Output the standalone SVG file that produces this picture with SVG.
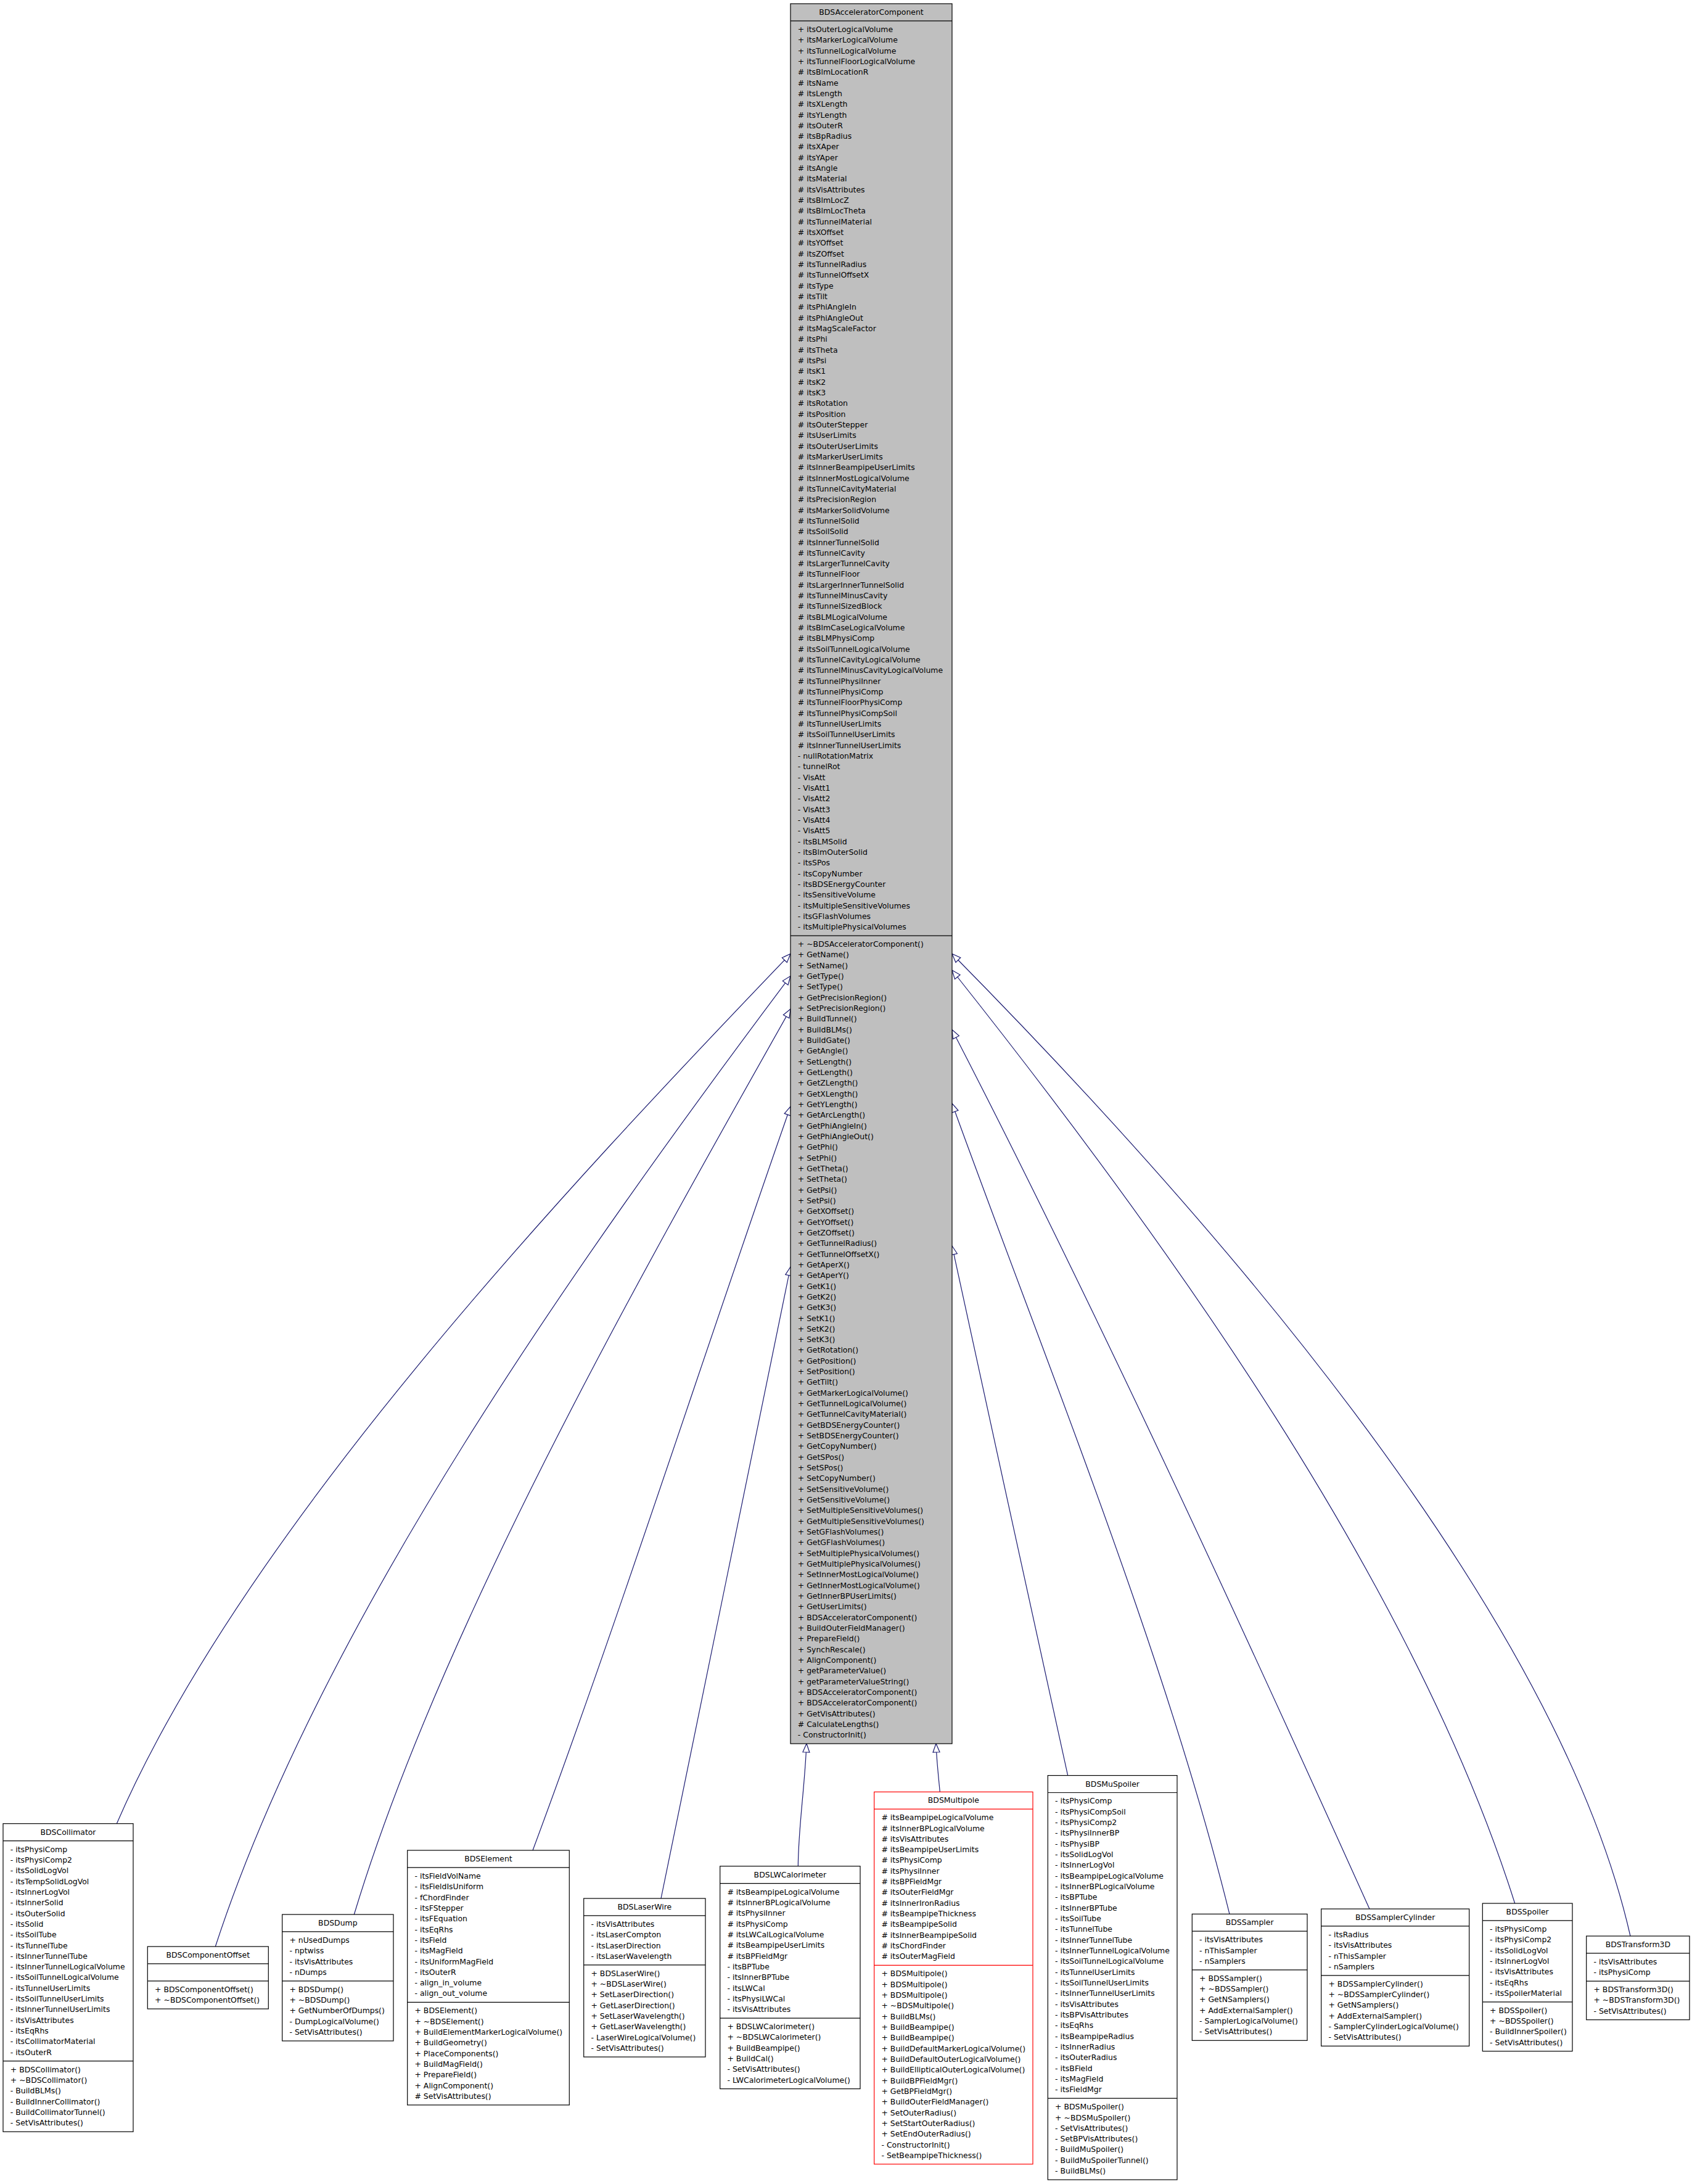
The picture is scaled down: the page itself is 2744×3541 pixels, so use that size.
<svg xmlns="http://www.w3.org/2000/svg" width="2744" height="3541" viewBox="0 0 2744 3541">
<style>
text{font-family:"DejaVu Sans","Liberation Sans",sans-serif;font-size:12.45px;fill:#000}
.c{text-anchor:middle}
.n rect{fill:#fff;stroke:#000;stroke-width:1.2}
.n line{stroke:#000;stroke-width:1.2}
.root rect{fill:#bfbfbf}
.red rect,.red line{stroke:#ff0000}
.e path{fill:none;stroke:#191970;stroke-width:1.2}
</style>
<defs>
<marker id="tri" markerUnits="userSpaceOnUse" markerWidth="16" markerHeight="14" refX="14" refY="6.5" orient="auto-start-reverse" overflow="visible">
<path d="M0,1 L14,6.5 L0,12 Z" fill="#fff" stroke="#191970" stroke-width="1.2"/>
</marker>
</defs>
<rect width="2744" height="3541" fill="#fff"/>
<g class="e" id="connectors">
<path marker-start="url(#tri)" d="M1282,1546.5 C923,1921 397,2478 189.3,2956.7"/>
<path marker-start="url(#tri)" d="M1282,1582.5 C946,2030.5 523,2624 349.3,3156"/>
<path marker-start="url(#tri)" d="M1282,1636 C1027,2088 713.5,2643 574.3,3104"/>
<path marker-start="url(#tri)" d="M1282,1794 C1150,2170 1004,2624 864,3000"/>
<path marker-start="url(#tri)" d="M1282,2054 C1212,2395 1142,2737 1072,3078"/>
<path marker-start="url(#tri)" d="M1308,2827 C1305,2900 1295,2960 1294.3,3025.7"/>
<path marker-start="url(#tri)" d="M1518,2827 C1519,2855 1522,2880 1524.3,2905.3"/>
<path marker-start="url(#tri)" d="M1544,2020 C1606,2306 1669,2593 1731.7,2878.6"/>
<path marker-start="url(#tri)" d="M1544,1789 C1693.6,2202.6 1888.4,2676.5 1994,3103.3"/>
<path marker-start="url(#tri)" d="M1544,1669.5 C1774,2114.5 2016,2640 2221,3095"/>
<path marker-start="url(#tri)" d="M1544,1573 C1885,2002 2291.7,2563.5 2456.7,3086"/>
<path marker-start="url(#tri)" d="M1544,1546.5 C1936,1944 2520.8,2595.8 2644,3139"/>
</g>
<g class="n root" id="BDSAcceleratorComponent" transform="translate(1282,6)">
<rect width="262" height="2821.1"/>
<line x1="0" y1="27.9" x2="262" y2="27.9"/>
<line x1="0" y1="1511.125" x2="262" y2="1511.125"/>
<text class="c" x="131" y="18">BDSAcceleratorComponent</text>
<text x="11.8" y="45.9"><tspan x="11.8">+ itsOuterLogicalVolume</tspan><tspan x="11.8" dy="17.325">+ itsMarkerLogicalVolume</tspan><tspan x="11.8" dy="17.325">+ itsTunnelLogicalVolume</tspan><tspan x="11.8" dy="17.325">+ itsTunnelFloorLogicalVolume</tspan><tspan x="11.8" dy="17.325"># itsBlmLocationR</tspan><tspan x="11.8" dy="17.325"># itsName</tspan><tspan x="11.8" dy="17.325"># itsLength</tspan><tspan x="11.8" dy="17.325"># itsXLength</tspan><tspan x="11.8" dy="17.325"># itsYLength</tspan><tspan x="11.8" dy="17.325"># itsOuterR</tspan><tspan x="11.8" dy="17.325"># itsBpRadius</tspan><tspan x="11.8" dy="17.325"># itsXAper</tspan><tspan x="11.8" dy="17.325"># itsYAper</tspan><tspan x="11.8" dy="17.325"># itsAngle</tspan><tspan x="11.8" dy="17.325"># itsMaterial</tspan><tspan x="11.8" dy="17.325"># itsVisAttributes</tspan><tspan x="11.8" dy="17.325"># itsBlmLocZ</tspan><tspan x="11.8" dy="17.325"># itsBlmLocTheta</tspan><tspan x="11.8" dy="17.325"># itsTunnelMaterial</tspan><tspan x="11.8" dy="17.325"># itsXOffset</tspan><tspan x="11.8" dy="17.325"># itsYOffset</tspan><tspan x="11.8" dy="17.325"># itsZOffset</tspan><tspan x="11.8" dy="17.325"># itsTunnelRadius</tspan><tspan x="11.8" dy="17.325"># itsTunnelOffsetX</tspan><tspan x="11.8" dy="17.325"># itsType</tspan><tspan x="11.8" dy="17.325"># itsTilt</tspan><tspan x="11.8" dy="17.325"># itsPhiAngleIn</tspan><tspan x="11.8" dy="17.325"># itsPhiAngleOut</tspan><tspan x="11.8" dy="17.325"># itsMagScaleFactor</tspan><tspan x="11.8" dy="17.325"># itsPhi</tspan><tspan x="11.8" dy="17.325"># itsTheta</tspan><tspan x="11.8" dy="17.325"># itsPsi</tspan><tspan x="11.8" dy="17.325"># itsK1</tspan><tspan x="11.8" dy="17.325"># itsK2</tspan><tspan x="11.8" dy="17.325"># itsK3</tspan><tspan x="11.8" dy="17.325"># itsRotation</tspan><tspan x="11.8" dy="17.325"># itsPosition</tspan><tspan x="11.8" dy="17.325"># itsOuterStepper</tspan><tspan x="11.8" dy="17.325"># itsUserLimits</tspan><tspan x="11.8" dy="17.325"># itsOuterUserLimits</tspan><tspan x="11.8" dy="17.325"># itsMarkerUserLimits</tspan><tspan x="11.8" dy="17.325"># itsInnerBeampipeUserLimits</tspan><tspan x="11.8" dy="17.325"># itsInnerMostLogicalVolume</tspan><tspan x="11.8" dy="17.325"># itsTunnelCavityMaterial</tspan><tspan x="11.8" dy="17.325"># itsPrecisionRegion</tspan><tspan x="11.8" dy="17.325"># itsMarkerSolidVolume</tspan><tspan x="11.8" dy="17.325"># itsTunnelSolid</tspan><tspan x="11.8" dy="17.325"># itsSoilSolid</tspan><tspan x="11.8" dy="17.325"># itsInnerTunnelSolid</tspan><tspan x="11.8" dy="17.325"># itsTunnelCavity</tspan><tspan x="11.8" dy="17.325"># itsLargerTunnelCavity</tspan><tspan x="11.8" dy="17.325"># itsTunnelFloor</tspan><tspan x="11.8" dy="17.325"># itsLargerInnerTunnelSolid</tspan><tspan x="11.8" dy="17.325"># itsTunnelMinusCavity</tspan><tspan x="11.8" dy="17.325"># itsTunnelSizedBlock</tspan><tspan x="11.8" dy="17.325"># itsBLMLogicalVolume</tspan><tspan x="11.8" dy="17.325"># itsBlmCaseLogicalVolume</tspan><tspan x="11.8" dy="17.325"># itsBLMPhysiComp</tspan><tspan x="11.8" dy="17.325"># itsSoilTunnelLogicalVolume</tspan><tspan x="11.8" dy="17.325"># itsTunnelCavityLogicalVolume</tspan><tspan x="11.8" dy="17.325"># itsTunnelMinusCavityLogicalVolume</tspan><tspan x="11.8" dy="17.325"># itsTunnelPhysiInner</tspan><tspan x="11.8" dy="17.325"># itsTunnelPhysiComp</tspan><tspan x="11.8" dy="17.325"># itsTunnelFloorPhysiComp</tspan><tspan x="11.8" dy="17.325"># itsTunnelPhysiCompSoil</tspan><tspan x="11.8" dy="17.325"># itsTunnelUserLimits</tspan><tspan x="11.8" dy="17.325"># itsSoilTunnelUserLimits</tspan><tspan x="11.8" dy="17.325"># itsInnerTunnelUserLimits</tspan><tspan x="11.8" dy="17.325">- nullRotationMatrix</tspan><tspan x="11.8" dy="17.325">- tunnelRot</tspan><tspan x="11.8" dy="17.325">- VisAtt</tspan><tspan x="11.8" dy="17.325">- VisAtt1</tspan><tspan x="11.8" dy="17.325">- VisAtt2</tspan><tspan x="11.8" dy="17.325">- VisAtt3</tspan><tspan x="11.8" dy="17.325">- VisAtt4</tspan><tspan x="11.8" dy="17.325">- VisAtt5</tspan><tspan x="11.8" dy="17.325">- itsBLMSolid</tspan><tspan x="11.8" dy="17.325">- itsBlmOuterSolid</tspan><tspan x="11.8" dy="17.325">- itsSPos</tspan><tspan x="11.8" dy="17.325">- itsCopyNumber</tspan><tspan x="11.8" dy="17.325">- itsBDSEnergyCounter</tspan><tspan x="11.8" dy="17.325">- itsSensitiveVolume</tspan><tspan x="11.8" dy="17.325">- itsMultipleSensitiveVolumes</tspan><tspan x="11.8" dy="17.325">- itsGFlashVolumes</tspan><tspan x="11.8" dy="17.325">- itsMultiplePhysicalVolumes</tspan></text>
<text x="11.8" y="1529.125"><tspan x="11.8">+ ~BDSAcceleratorComponent()</tspan><tspan x="11.8" dy="17.325">+ GetName()</tspan><tspan x="11.8" dy="17.325">+ SetName()</tspan><tspan x="11.8" dy="17.325">+ GetType()</tspan><tspan x="11.8" dy="17.325">+ SetType()</tspan><tspan x="11.8" dy="17.325">+ GetPrecisionRegion()</tspan><tspan x="11.8" dy="17.325">+ SetPrecisionRegion()</tspan><tspan x="11.8" dy="17.325">+ BuildTunnel()</tspan><tspan x="11.8" dy="17.325">+ BuildBLMs()</tspan><tspan x="11.8" dy="17.325">+ BuildGate()</tspan><tspan x="11.8" dy="17.325">+ GetAngle()</tspan><tspan x="11.8" dy="17.325">+ SetLength()</tspan><tspan x="11.8" dy="17.325">+ GetLength()</tspan><tspan x="11.8" dy="17.325">+ GetZLength()</tspan><tspan x="11.8" dy="17.325">+ GetXLength()</tspan><tspan x="11.8" dy="17.325">+ GetYLength()</tspan><tspan x="11.8" dy="17.325">+ GetArcLength()</tspan><tspan x="11.8" dy="17.325">+ GetPhiAngleIn()</tspan><tspan x="11.8" dy="17.325">+ GetPhiAngleOut()</tspan><tspan x="11.8" dy="17.325">+ GetPhi()</tspan><tspan x="11.8" dy="17.325">+ SetPhi()</tspan><tspan x="11.8" dy="17.325">+ GetTheta()</tspan><tspan x="11.8" dy="17.325">+ SetTheta()</tspan><tspan x="11.8" dy="17.325">+ GetPsi()</tspan><tspan x="11.8" dy="17.325">+ SetPsi()</tspan><tspan x="11.8" dy="17.325">+ GetXOffset()</tspan><tspan x="11.8" dy="17.325">+ GetYOffset()</tspan><tspan x="11.8" dy="17.325">+ GetZOffset()</tspan><tspan x="11.8" dy="17.325">+ GetTunnelRadius()</tspan><tspan x="11.8" dy="17.325">+ GetTunnelOffsetX()</tspan><tspan x="11.8" dy="17.325">+ GetAperX()</tspan><tspan x="11.8" dy="17.325">+ GetAperY()</tspan><tspan x="11.8" dy="17.325">+ GetK1()</tspan><tspan x="11.8" dy="17.325">+ GetK2()</tspan><tspan x="11.8" dy="17.325">+ GetK3()</tspan><tspan x="11.8" dy="17.325">+ SetK1()</tspan><tspan x="11.8" dy="17.325">+ SetK2()</tspan><tspan x="11.8" dy="17.325">+ SetK3()</tspan><tspan x="11.8" dy="17.325">+ GetRotation()</tspan><tspan x="11.8" dy="17.325">+ GetPosition()</tspan><tspan x="11.8" dy="17.325">+ SetPosition()</tspan><tspan x="11.8" dy="17.325">+ GetTilt()</tspan><tspan x="11.8" dy="17.325">+ GetMarkerLogicalVolume()</tspan><tspan x="11.8" dy="17.325">+ GetTunnelLogicalVolume()</tspan><tspan x="11.8" dy="17.325">+ GetTunnelCavityMaterial()</tspan><tspan x="11.8" dy="17.325">+ GetBDSEnergyCounter()</tspan><tspan x="11.8" dy="17.325">+ SetBDSEnergyCounter()</tspan><tspan x="11.8" dy="17.325">+ GetCopyNumber()</tspan><tspan x="11.8" dy="17.325">+ GetSPos()</tspan><tspan x="11.8" dy="17.325">+ SetSPos()</tspan><tspan x="11.8" dy="17.325">+ SetCopyNumber()</tspan><tspan x="11.8" dy="17.325">+ SetSensitiveVolume()</tspan><tspan x="11.8" dy="17.325">+ GetSensitiveVolume()</tspan><tspan x="11.8" dy="17.325">+ SetMultipleSensitiveVolumes()</tspan><tspan x="11.8" dy="17.325">+ GetMultipleSensitiveVolumes()</tspan><tspan x="11.8" dy="17.325">+ SetGFlashVolumes()</tspan><tspan x="11.8" dy="17.325">+ GetGFlashVolumes()</tspan><tspan x="11.8" dy="17.325">+ SetMultiplePhysicalVolumes()</tspan><tspan x="11.8" dy="17.325">+ GetMultiplePhysicalVolumes()</tspan><tspan x="11.8" dy="17.325">+ SetInnerMostLogicalVolume()</tspan><tspan x="11.8" dy="17.325">+ GetInnerMostLogicalVolume()</tspan><tspan x="11.8" dy="17.325">+ GetInnerBPUserLimits()</tspan><tspan x="11.8" dy="17.325">+ GetUserLimits()</tspan><tspan x="11.8" dy="17.325">+ BDSAcceleratorComponent()</tspan><tspan x="11.8" dy="17.325">+ BuildOuterFieldManager()</tspan><tspan x="11.8" dy="17.325">+ PrepareField()</tspan><tspan x="11.8" dy="17.325">+ SynchRescale()</tspan><tspan x="11.8" dy="17.325">+ AlignComponent()</tspan><tspan x="11.8" dy="17.325">+ getParameterValue()</tspan><tspan x="11.8" dy="17.325">+ getParameterValueString()</tspan><tspan x="11.8" dy="17.325">+ BDSAcceleratorComponent()</tspan><tspan x="11.8" dy="17.325">+ BDSAcceleratorComponent()</tspan><tspan x="11.8" dy="17.325">+ GetVisAttributes()</tspan><tspan x="11.8" dy="17.325"># CalculateLengths()</tspan><tspan x="11.8" dy="17.325">- ConstructorInit()</tspan></text>
</g>
<g class="n" id="BDSCollimator" transform="translate(5,2956.7)">
<rect width="211" height="499.55"/>
<line x1="0" y1="27.9" x2="211" y2="27.9"/>
<line x1="0" y1="385" x2="211" y2="385"/>
<text class="c" x="105.5" y="18">BDSCollimator</text>
<text x="11.8" y="45.9"><tspan x="11.8">- itsPhysiComp</tspan><tspan x="11.8" dy="17.325">- itsPhysiComp2</tspan><tspan x="11.8" dy="17.325">- itsSolidLogVol</tspan><tspan x="11.8" dy="17.325">- itsTempSolidLogVol</tspan><tspan x="11.8" dy="17.325">- itsInnerLogVol</tspan><tspan x="11.8" dy="17.325">- itsInnerSolid</tspan><tspan x="11.8" dy="17.325">- itsOuterSolid</tspan><tspan x="11.8" dy="17.325">- itsSolid</tspan><tspan x="11.8" dy="17.325">- itsSoilTube</tspan><tspan x="11.8" dy="17.325">- itsTunnelTube</tspan><tspan x="11.8" dy="17.325">- itsInnerTunnelTube</tspan><tspan x="11.8" dy="17.325">- itsInnerTunnelLogicalVolume</tspan><tspan x="11.8" dy="17.325">- itsSoilTunnelLogicalVolume</tspan><tspan x="11.8" dy="17.325">- itsTunnelUserLimits</tspan><tspan x="11.8" dy="17.325">- itsSoilTunnelUserLimits</tspan><tspan x="11.8" dy="17.325">- itsInnerTunnelUserLimits</tspan><tspan x="11.8" dy="17.325">- itsVisAttributes</tspan><tspan x="11.8" dy="17.325">- itsEqRhs</tspan><tspan x="11.8" dy="17.325">- itsCollimatorMaterial</tspan><tspan x="11.8" dy="17.325">- itsOuterR</tspan></text>
<text x="11.8" y="403"><tspan x="11.8">+ BDSCollimator()</tspan><tspan x="11.8" dy="17.325">+ ~BDSCollimator()</tspan><tspan x="11.8" dy="17.325">- BuildBLMs()</tspan><tspan x="11.8" dy="17.325">- BuildInnerCollimator()</tspan><tspan x="11.8" dy="17.325">- BuildCollimatorTunnel()</tspan><tspan x="11.8" dy="17.325">- SetVisAttributes()</tspan></text>
</g>
<g class="n" id="BDSComponentOffset" transform="translate(239.3,3156)">
<rect width="196" height="101.05"/>
<line x1="0" y1="27.9" x2="196" y2="27.9"/>
<line x1="0" y1="55.8" x2="196" y2="55.8"/>
<text class="c" x="98" y="18">BDSComponentOffset</text>
<text x="11.8" y="73.8"><tspan x="11.8">+ BDSComponentOffset()</tspan><tspan x="11.8" dy="17.325">+ ~BDSComponentOffset()</tspan></text>
</g>
<g class="n" id="BDSDump" transform="translate(457.7,3104)">
<rect width="180.3" height="205"/>
<line x1="0" y1="27.9" x2="180.3" y2="27.9"/>
<line x1="0" y1="107.8" x2="180.3" y2="107.8"/>
<text class="c" x="90.15" y="18">BDSDump</text>
<text x="11.8" y="45.9"><tspan x="11.8">+ nUsedDumps</tspan><tspan x="11.8" dy="17.325">- nptwiss</tspan><tspan x="11.8" dy="17.325">- itsVisAttributes</tspan><tspan x="11.8" dy="17.325">- nDumps</tspan></text>
<text x="11.8" y="125.8"><tspan x="11.8">+ BDSDump()</tspan><tspan x="11.8" dy="17.325">+ ~BDSDump()</tspan><tspan x="11.8" dy="17.325">+ GetNumberOfDumps()</tspan><tspan x="11.8" dy="17.325">- DumpLogicalVolume()</tspan><tspan x="11.8" dy="17.325">- SetVisAttributes()</tspan></text>
</g>
<g class="n" id="BDSElement" transform="translate(660.7,3000)">
<rect width="262.6" height="412.9"/>
<line x1="0" y1="27.9" x2="262.6" y2="27.9"/>
<line x1="0" y1="246.4" x2="262.6" y2="246.4"/>
<text class="c" x="131.3" y="18">BDSElement</text>
<text x="11.8" y="45.9"><tspan x="11.8">- itsFieldVolName</tspan><tspan x="11.8" dy="17.325">- itsFieldIsUniform</tspan><tspan x="11.8" dy="17.325">- fChordFinder</tspan><tspan x="11.8" dy="17.325">- itsFStepper</tspan><tspan x="11.8" dy="17.325">- itsFEquation</tspan><tspan x="11.8" dy="17.325">- itsEqRhs</tspan><tspan x="11.8" dy="17.325">- itsField</tspan><tspan x="11.8" dy="17.325">- itsMagField</tspan><tspan x="11.8" dy="17.325">- itsUniformMagField</tspan><tspan x="11.8" dy="17.325">- itsOuterR</tspan><tspan x="11.8" dy="17.325">- align_in_volume</tspan><tspan x="11.8" dy="17.325">- align_out_volume</tspan></text>
<text x="11.8" y="264.4"><tspan x="11.8">+ BDSElement()</tspan><tspan x="11.8" dy="17.325">+ ~BDSElement()</tspan><tspan x="11.8" dy="17.325">+ BuildElementMarkerLogicalVolume()</tspan><tspan x="11.8" dy="17.325">+ BuildGeometry()</tspan><tspan x="11.8" dy="17.325">+ PlaceComponents()</tspan><tspan x="11.8" dy="17.325">+ BuildMagField()</tspan><tspan x="11.8" dy="17.325">+ PrepareField()</tspan><tspan x="11.8" dy="17.325">+ AlignComponent()</tspan><tspan x="11.8" dy="17.325"># SetVisAttributes()</tspan></text>
</g>
<g class="n" id="BDSLaserWire" transform="translate(946.7,3078)">
<rect width="197.3" height="257"/>
<line x1="0" y1="27.9" x2="197.3" y2="27.9"/>
<line x1="0" y1="107.8" x2="197.3" y2="107.8"/>
<text class="c" x="98.65" y="18">BDSLaserWire</text>
<text x="11.8" y="45.9"><tspan x="11.8">- itsVisAttributes</tspan><tspan x="11.8" dy="17.325">- itsLaserCompton</tspan><tspan x="11.8" dy="17.325">- itsLaserDirection</tspan><tspan x="11.8" dy="17.325">- itsLaserWavelength</tspan></text>
<text x="11.8" y="125.8"><tspan x="11.8">+ BDSLaserWire()</tspan><tspan x="11.8" dy="17.325">+ ~BDSLaserWire()</tspan><tspan x="11.8" dy="17.325">+ SetLaserDirection()</tspan><tspan x="11.8" dy="17.325">+ GetLaserDirection()</tspan><tspan x="11.8" dy="17.325">+ SetLaserWavelength()</tspan><tspan x="11.8" dy="17.325">+ GetLaserWavelength()</tspan><tspan x="11.8" dy="17.325">- LaserWireLogicalVolume()</tspan><tspan x="11.8" dy="17.325">- SetVisAttributes()</tspan></text>
</g>
<g class="n" id="BDSLWCalorimeter" transform="translate(1167.7,3025.7)">
<rect width="227.3" height="360.95"/>
<line x1="0" y1="27.9" x2="227.3" y2="27.9"/>
<line x1="0" y1="246.4" x2="227.3" y2="246.4"/>
<text class="c" x="113.65" y="18">BDSLWCalorimeter</text>
<text x="11.8" y="45.9"><tspan x="11.8"># itsBeampipeLogicalVolume</tspan><tspan x="11.8" dy="17.325"># itsInnerBPLogicalVolume</tspan><tspan x="11.8" dy="17.325"># itsPhysiInner</tspan><tspan x="11.8" dy="17.325"># itsPhysiComp</tspan><tspan x="11.8" dy="17.325"># itsLWCalLogicalVolume</tspan><tspan x="11.8" dy="17.325"># itsBeampipeUserLimits</tspan><tspan x="11.8" dy="17.325"># itsBPFieldMgr</tspan><tspan x="11.8" dy="17.325">- itsBPTube</tspan><tspan x="11.8" dy="17.325">- itsInnerBPTube</tspan><tspan x="11.8" dy="17.325">- itsLWCal</tspan><tspan x="11.8" dy="17.325">- itsPhysiLWCal</tspan><tspan x="11.8" dy="17.325">- itsVisAttributes</tspan></text>
<text x="11.8" y="264.4"><tspan x="11.8">+ BDSLWCalorimeter()</tspan><tspan x="11.8" dy="17.325">+ ~BDSLWCalorimeter()</tspan><tspan x="11.8" dy="17.325">+ BuildBeampipe()</tspan><tspan x="11.8" dy="17.325">+ BuildCal()</tspan><tspan x="11.8" dy="17.325">- SetVisAttributes()</tspan><tspan x="11.8" dy="17.325">- LWCalorimeterLogicalVolume()</tspan></text>
</g>
<g class="n red" id="BDSMultipole" transform="translate(1417.7,2905.3)">
<rect width="257.3" height="603.5"/>
<line x1="0" y1="27.9" x2="257.3" y2="27.9"/>
<line x1="0" y1="281.05" x2="257.3" y2="281.05"/>
<text class="c" x="128.65" y="18">BDSMultipole</text>
<text x="11.8" y="45.9"><tspan x="11.8"># itsBeampipeLogicalVolume</tspan><tspan x="11.8" dy="17.325"># itsInnerBPLogicalVolume</tspan><tspan x="11.8" dy="17.325"># itsVisAttributes</tspan><tspan x="11.8" dy="17.325"># itsBeampipeUserLimits</tspan><tspan x="11.8" dy="17.325"># itsPhysiComp</tspan><tspan x="11.8" dy="17.325"># itsPhysiInner</tspan><tspan x="11.8" dy="17.325"># itsBPFieldMgr</tspan><tspan x="11.8" dy="17.325"># itsOuterFieldMgr</tspan><tspan x="11.8" dy="17.325"># itsInnerIronRadius</tspan><tspan x="11.8" dy="17.325"># itsBeampipeThickness</tspan><tspan x="11.8" dy="17.325"># itsBeampipeSolid</tspan><tspan x="11.8" dy="17.325"># itsInnerBeampipeSolid</tspan><tspan x="11.8" dy="17.325"># itsChordFinder</tspan><tspan x="11.8" dy="17.325"># itsOuterMagField</tspan></text>
<text x="11.8" y="299.05"><tspan x="11.8">+ BDSMultipole()</tspan><tspan x="11.8" dy="17.325">+ BDSMultipole()</tspan><tspan x="11.8" dy="17.325">+ BDSMultipole()</tspan><tspan x="11.8" dy="17.325">+ ~BDSMultipole()</tspan><tspan x="11.8" dy="17.325">+ BuildBLMs()</tspan><tspan x="11.8" dy="17.325">+ BuildBeampipe()</tspan><tspan x="11.8" dy="17.325">+ BuildBeampipe()</tspan><tspan x="11.8" dy="17.325">+ BuildDefaultMarkerLogicalVolume()</tspan><tspan x="11.8" dy="17.325">+ BuildDefaultOuterLogicalVolume()</tspan><tspan x="11.8" dy="17.325">+ BuildEllipticalOuterLogicalVolume()</tspan><tspan x="11.8" dy="17.325">+ BuildBPFieldMgr()</tspan><tspan x="11.8" dy="17.325">+ GetBPFieldMgr()</tspan><tspan x="11.8" dy="17.325">+ BuildOuterFieldManager()</tspan><tspan x="11.8" dy="17.325">+ SetOuterRadius()</tspan><tspan x="11.8" dy="17.325">+ SetStartOuterRadius()</tspan><tspan x="11.8" dy="17.325">+ SetEndOuterRadius()</tspan><tspan x="11.8" dy="17.325">- ConstructorInit()</tspan><tspan x="11.8" dy="17.325">- SetBeampipeThickness()</tspan></text>
</g>
<g class="n" id="BDSMuSpoiler" transform="translate(1699.3,2878.6)">
<rect width="209.7" height="655.475"/>
<line x1="0" y1="27.9" x2="209.7" y2="27.9"/>
<line x1="0" y1="523.6" x2="209.7" y2="523.6"/>
<text class="c" x="104.85" y="18">BDSMuSpoiler</text>
<text x="11.8" y="45.9"><tspan x="11.8">- itsPhysiComp</tspan><tspan x="11.8" dy="17.325">- itsPhysiCompSoil</tspan><tspan x="11.8" dy="17.325">- itsPhysiComp2</tspan><tspan x="11.8" dy="17.325">- itsPhysiInnerBP</tspan><tspan x="11.8" dy="17.325">- itsPhysiBP</tspan><tspan x="11.8" dy="17.325">- itsSolidLogVol</tspan><tspan x="11.8" dy="17.325">- itsInnerLogVol</tspan><tspan x="11.8" dy="17.325">- itsBeampipeLogicalVolume</tspan><tspan x="11.8" dy="17.325">- itsInnerBPLogicalVolume</tspan><tspan x="11.8" dy="17.325">- itsBPTube</tspan><tspan x="11.8" dy="17.325">- itsInnerBPTube</tspan><tspan x="11.8" dy="17.325">- itsSoilTube</tspan><tspan x="11.8" dy="17.325">- itsTunnelTube</tspan><tspan x="11.8" dy="17.325">- itsInnerTunnelTube</tspan><tspan x="11.8" dy="17.325">- itsInnerTunnelLogicalVolume</tspan><tspan x="11.8" dy="17.325">- itsSoilTunnelLogicalVolume</tspan><tspan x="11.8" dy="17.325">- itsTunnelUserLimits</tspan><tspan x="11.8" dy="17.325">- itsSoilTunnelUserLimits</tspan><tspan x="11.8" dy="17.325">- itsInnerTunnelUserLimits</tspan><tspan x="11.8" dy="17.325">- itsVisAttributes</tspan><tspan x="11.8" dy="17.325">- itsBPVisAttributes</tspan><tspan x="11.8" dy="17.325">- itsEqRhs</tspan><tspan x="11.8" dy="17.325">- itsBeampipeRadius</tspan><tspan x="11.8" dy="17.325">- itsInnerRadius</tspan><tspan x="11.8" dy="17.325">- itsOuterRadius</tspan><tspan x="11.8" dy="17.325">- itsBField</tspan><tspan x="11.8" dy="17.325">- itsMagField</tspan><tspan x="11.8" dy="17.325">- itsFieldMgr</tspan></text>
<text x="11.8" y="541.6"><tspan x="11.8">+ BDSMuSpoiler()</tspan><tspan x="11.8" dy="17.325">+ ~BDSMuSpoiler()</tspan><tspan x="11.8" dy="17.325">- SetVisAttributes()</tspan><tspan x="11.8" dy="17.325">- SetBPVisAttributes()</tspan><tspan x="11.8" dy="17.325">- BuildMuSpoiler()</tspan><tspan x="11.8" dy="17.325">- BuildMuSpoilerTunnel()</tspan><tspan x="11.8" dy="17.325">- BuildBLMs()</tspan></text>
</g>
<g class="n" id="BDSSampler" transform="translate(1933.3,3103.3)">
<rect width="186.7" height="205"/>
<line x1="0" y1="27.9" x2="186.7" y2="27.9"/>
<line x1="0" y1="90.475" x2="186.7" y2="90.475"/>
<text class="c" x="93.35" y="18">BDSSampler</text>
<text x="11.8" y="45.9"><tspan x="11.8">- itsVisAttributes</tspan><tspan x="11.8" dy="17.325">- nThisSampler</tspan><tspan x="11.8" dy="17.325">- nSamplers</tspan></text>
<text x="11.8" y="108.475"><tspan x="11.8">+ BDSSampler()</tspan><tspan x="11.8" dy="17.325">+ ~BDSSampler()</tspan><tspan x="11.8" dy="17.325">+ GetNSamplers()</tspan><tspan x="11.8" dy="17.325">+ AddExternalSampler()</tspan><tspan x="11.8" dy="17.325">- SamplerLogicalVolume()</tspan><tspan x="11.8" dy="17.325">- SetVisAttributes()</tspan></text>
</g>
<g class="n" id="BDSSamplerCylinder" transform="translate(2142.7,3095)">
<rect width="240" height="222.35"/>
<line x1="0" y1="27.9" x2="240" y2="27.9"/>
<line x1="0" y1="107.8" x2="240" y2="107.8"/>
<text class="c" x="120" y="18">BDSSamplerCylinder</text>
<text x="11.8" y="45.9"><tspan x="11.8">- itsRadius</tspan><tspan x="11.8" dy="17.325">- itsVisAttributes</tspan><tspan x="11.8" dy="17.325">- nThisSampler</tspan><tspan x="11.8" dy="17.325">- nSamplers</tspan></text>
<text x="11.8" y="125.8"><tspan x="11.8">+ BDSSamplerCylinder()</tspan><tspan x="11.8" dy="17.325">+ ~BDSSamplerCylinder()</tspan><tspan x="11.8" dy="17.325">+ GetNSamplers()</tspan><tspan x="11.8" dy="17.325">+ AddExternalSampler()</tspan><tspan x="11.8" dy="17.325">- SamplerCylinderLogicalVolume()</tspan><tspan x="11.8" dy="17.325">- SetVisAttributes()</tspan></text>
</g>
<g class="n" id="BDSSpoiler" transform="translate(2404.3,3086)">
<rect width="145.7" height="239.675"/>
<line x1="0" y1="27.9" x2="145.7" y2="27.9"/>
<line x1="0" y1="159.775" x2="145.7" y2="159.775"/>
<text class="c" x="72.85" y="18">BDSSpoiler</text>
<text x="11.8" y="45.9"><tspan x="11.8">- itsPhysiComp</tspan><tspan x="11.8" dy="17.325">- itsPhysiComp2</tspan><tspan x="11.8" dy="17.325">- itsSolidLogVol</tspan><tspan x="11.8" dy="17.325">- itsInnerLogVol</tspan><tspan x="11.8" dy="17.325">- itsVisAttributes</tspan><tspan x="11.8" dy="17.325">- itsEqRhs</tspan><tspan x="11.8" dy="17.325">- itsSpoilerMaterial</tspan></text>
<text x="11.8" y="177.775"><tspan x="11.8">+ BDSSpoiler()</tspan><tspan x="11.8" dy="17.325">+ ~BDSSpoiler()</tspan><tspan x="11.8" dy="17.325">- BuildInnerSpoiler()</tspan><tspan x="11.8" dy="17.325">- SetVisAttributes()</tspan></text>
</g>
<g class="n" id="BDSTransform3D" transform="translate(2572.7,3139)">
<rect width="167.3" height="135.725"/>
<line x1="0" y1="27.9" x2="167.3" y2="27.9"/>
<line x1="0" y1="73.15" x2="167.3" y2="73.15"/>
<text class="c" x="83.65" y="18">BDSTransform3D</text>
<text x="11.8" y="45.9"><tspan x="11.8">- itsVisAttributes</tspan><tspan x="11.8" dy="17.325">- itsPhysiComp</tspan></text>
<text x="11.8" y="91.15"><tspan x="11.8">+ BDSTransform3D()</tspan><tspan x="11.8" dy="17.325">+ ~BDSTransform3D()</tspan><tspan x="11.8" dy="17.325">- SetVisAttributes()</tspan></text>
</g>
</svg>
